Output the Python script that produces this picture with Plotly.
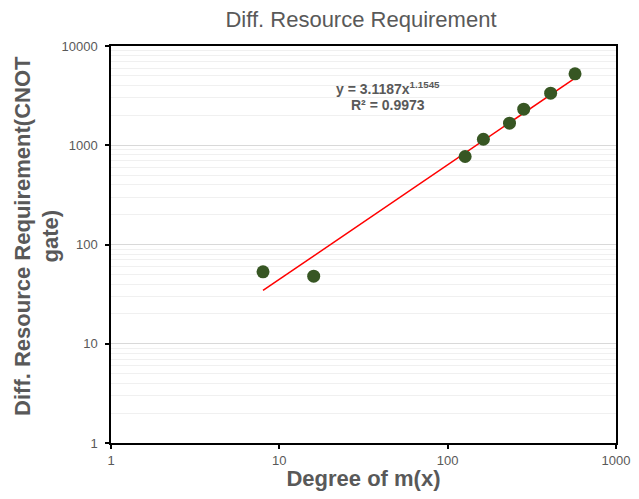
import numpy as np
import plotly.graph_objects as go

degree = [8, 16, 127, 163, 233, 283, 409, 571]
cnot = [53, 48, 770, 1150, 1670, 2310, 3350, 5240]
fit_a = 3.1187
fit_b = 1.1545
r2 = 0.9973
tick_vals = [1, 10, 100, 1000, 10000]
tick_text = ["1", "10", "100", "1000", "10000"]

gray = "#595959"
font_family = "Liberation Sans, Arial, sans-serif"

fit_x = np.geomspace(min(degree), max(degree), 50)
fit_y = fit_a * fit_x ** fit_b

fig = go.Figure()
fig.add_trace(go.Scatter(x=fit_x, y=fit_y, mode="lines",
                         line=dict(color="#ff0000", width=1.5), showlegend=False, hoverinfo="skip"))
fig.add_trace(go.Scatter(x=degree, y=cnot, mode="markers",
                         marker=dict(color="#375623", size=13), showlegend=False))

fig.add_annotation(x=np.log10(44), y=np.log10(3800), xref="x", yref="y",
                   text=f"<b>y = {fit_a}x<sup>{fit_b}</sup></b>", showarrow=False,
                   font=dict(size=14, color=gray, family=font_family))
fig.add_annotation(x=np.log10(44), y=np.log10(2550), xref="x", yref="y",
                   text=f"<b>R² = {r2}</b>", showarrow=False,
                   font=dict(size=14, color=gray, family=font_family))

# y-axis title (two lines, centered slightly above the plot middle as in the reference)
fig.add_annotation(x=-0.147, y=0.521, xref="paper", yref="paper", xanchor="center", yanchor="middle",
                   text="<b>Diff. Resource Requirement(CNOT<br>gate)</b>", textangle=-90, showarrow=False,
                   font=dict(size=22, color=gray, family=font_family))

axis_common = dict(
    type="log", showline=True, linecolor="black", linewidth=1.5, mirror=True,
    ticks="outside", ticklen=4, tickcolor="black", tickwidth=1.5, automargin=False,
    tickfont=dict(size=13, color=gray, family=font_family), zeroline=False,
    ticklabeloverflow="allow",
)

# page body adds an 8px offset, so the figure is drawn smaller to fit the window
fig.update_layout(
    width=623, height=483,
    margin=dict(l=103, r=15, t=38, b=48),
    paper_bgcolor="white", plot_bgcolor="white",
    title=dict(text="Diff. Resource Requirement", x=0.5666, xanchor="center", y=0.977, yanchor="middle",
               font=dict(size=22, color=gray, family=font_family)),
    xaxis=dict(axis_common, range=[0, 3], tickvals=tick_vals[:4], ticktext=tick_text[:4],
               showgrid=False, ticklabelstandoff=1,
               title=dict(text="<b>Degree of m(x)</b>", standoff=11,
                          font=dict(size=22, color=gray, family=font_family))),
    yaxis=dict(axis_common, range=[0, 4], tickvals=tick_vals, ticktext=tick_text,
               showgrid=True, gridcolor="#d9d9d9", gridwidth=1, ticklabelstandoff=5,
               minor=dict(showgrid=True, gridcolor="#f0f0f0", gridwidth=1, dtick="D1", ticks="")),
)

fig.write_html("out.html")
